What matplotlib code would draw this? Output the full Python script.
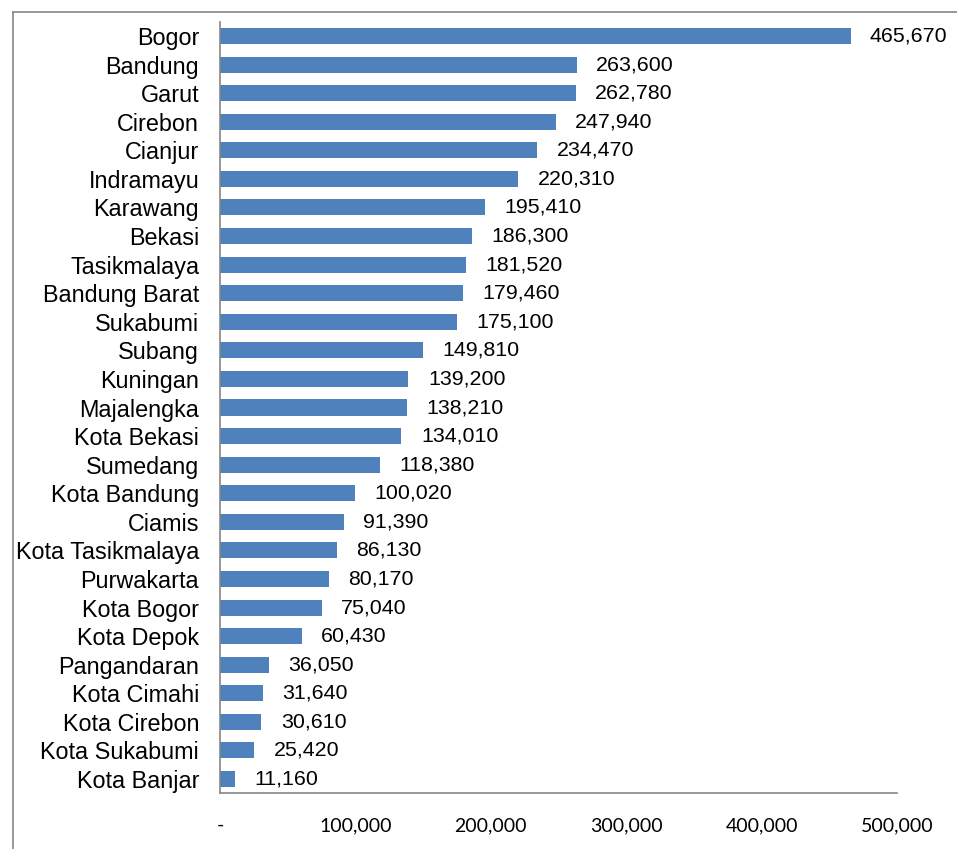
import numpy as np
import matplotlib.pyplot as plt
from matplotlib.lines import Line2D

regions = ["Bogor", "Bandung", "Garut", "Cirebon", "Cianjur", "Indramayu",
           "Karawang", "Bekasi", "Tasikmalaya", "Bandung Barat", "Sukabumi",
           "Subang", "Kuningan", "Majalengka", "Kota Bekasi", "Sumedang",
           "Kota Bandung", "Ciamis", "Kota Tasikmalaya", "Purwakarta",
           "Kota Bogor", "Kota Depok", "Pangandaran", "Kota Cimahi",
           "Kota Cirebon", "Kota Sukabumi", "Kota Banjar"]
values = [465670, 263600, 262780, 247940, 234470, 220310, 195410, 186300,
          181520, 179460, 175100, 149810, 139200, 138210, 134010, 118380,
          100020, 91390, 86130, 80170, 75040, 60430, 36050, 31640, 30610,
          25420, 11160]
xticks = [0, 100000, 200000, 300000, 400000, 500000]
xtick_labels = ["-", "100,000", "200,000", "300,000", "400,000", "500,000"]

W, H = 957, 849
fig = plt.figure(figsize=(W/100, H/100), dpi=100)
ax = fig.add_axes([220/W, 1-793.3/H, (897-220)/W, (793.3-21.7)/H])

y = np.arange(len(regions))
ax.barh(y, values, height=0.56, color="#4F81BD")
ax.set_ylim(len(regions)-0.5, -0.5)
ax.set_xlim(0, 500000)

ax.set_yticks(y)
ax.set_yticklabels(regions, fontsize=16.8, family="Liberation Sans")
ax.set_xticks(xticks)
ax.set_xticklabels(xtick_labels, fontsize=14, family="Lato")
ax.tick_params(axis="y", length=0, pad=15)
ax.tick_params(axis="x", length=0, pad=17)

for v, yi in zip(values, y):
    ax.annotate(f"{v:,}", (v, yi), xytext=(14, 0), textcoords="offset points",
                va="center", ha="left", fontsize=15.4, family="Liberation Sans")

for s in ["top", "right"]:
    ax.spines[s].set_visible(False)
for s in ["left", "bottom"]:
    ax.spines[s].set_color("#868686")
    ax.spines[s].set_linewidth(1.2)

# outer chart frame
fig.add_artist(Line2D([13/W, 13/W], [0, 1-12/H], transform=fig.transFigure, color="#868686", lw=1.2))
fig.add_artist(Line2D([13/W, 1], [1-12/H, 1-12/H], transform=fig.transFigure, color="#868686", lw=1.2))

fig.savefig("out.png", dpi=100)
